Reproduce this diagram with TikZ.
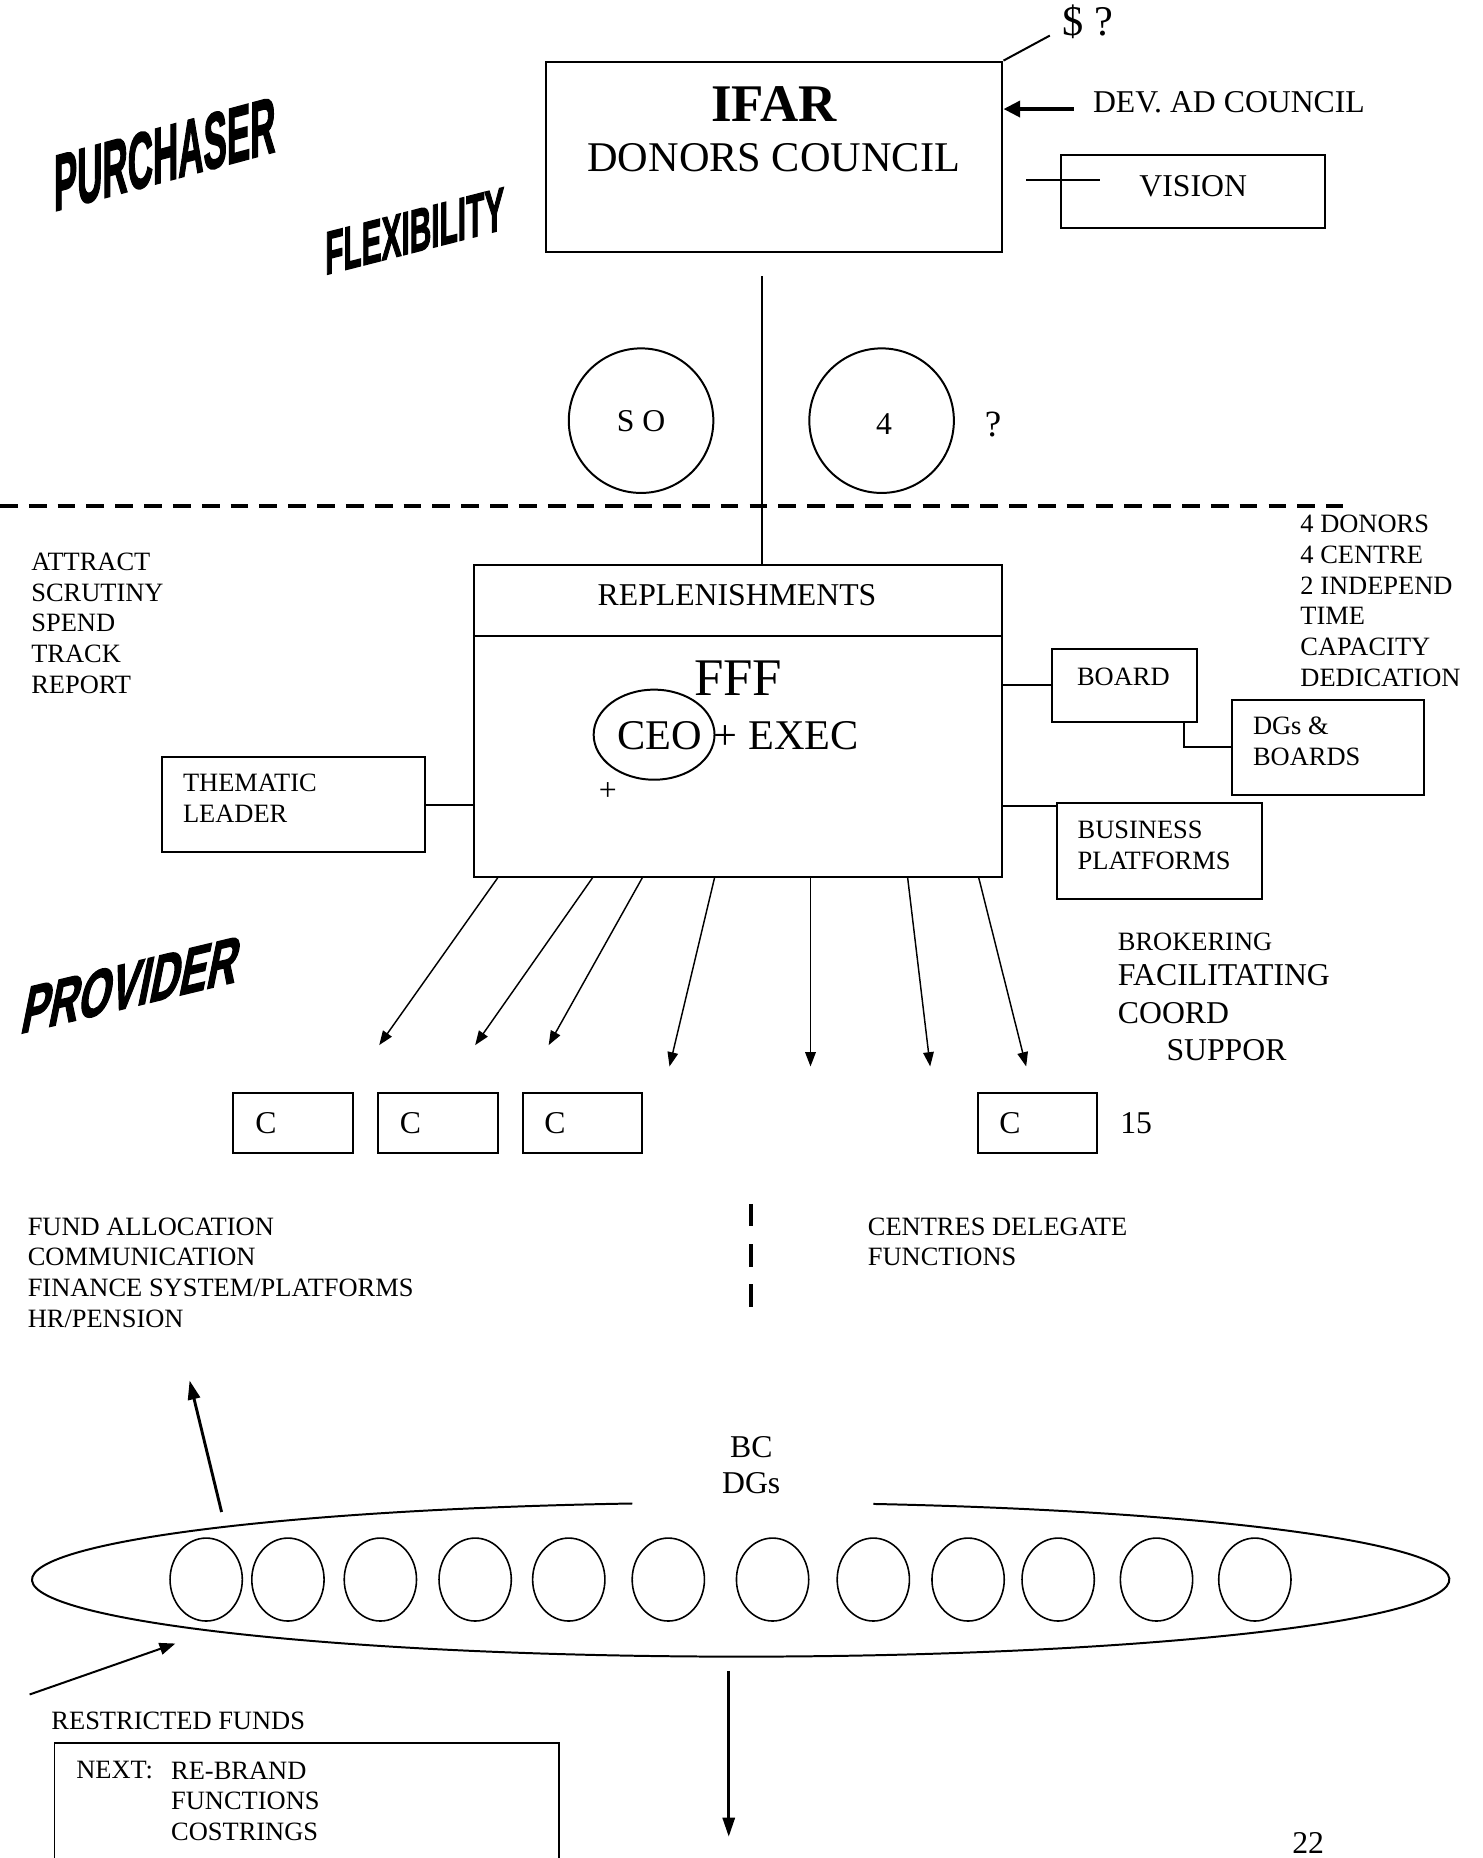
\documentclass[tikz,border=0pt]{standalone}
\usepackage{fontspec}
\setmainfont{Liberation Serif}
\newfontfamily\wafont[BoldFeatures={FakeBold=2.5}]{Liberation Sans}
\usetikzlibrary{arrows.meta,shapes.geometric,fit,calc}
\newcommand\myu{0.448pt}
\begin{document}
\begin{tikzpicture}[x=0.448pt,y=-0.448pt,
  box/.style={draw, line width=0.75pt, inner sep=0pt},
  conn/.style={line width=0.75pt},
  arr/.style={line width=0.55pt, -{Triangle[length=5.4pt,width=4pt]}},
  t/.style={inner sep=0pt},
  t10/.style={inner sep=0pt, font=\fontsize{10}{11.65}\selectfont, align=left},
  t12/.style={inner sep=0pt, font=\fontsize{12}{12.1}\selectfont},
  t16/.style={inner sep=0pt, font=\fontsize{16}{19}\selectfont},
  t20/.style={inner sep=0pt, font=\fontsize{20}{24}\selectfont},
  wa/.style={inner sep=0pt},
  circ/.style={draw, circle, line width=0.75pt, inner sep=0pt, font=\fontsize{12}{12.1}\selectfont},
  oval/.style={draw, ellipse, line width=0.6pt, inner sep=0pt}
]
\useasboundingbox (0,0) rectangle (1251,1568);

% ---------- top: IFAR ----------
\node[box, fit={(461,52) (846,213)}] (ifar) {};
\node[t20, font=\fontsize{20}{24}\selectfont\bfseries] (ifart) at (653,88) {IFAR};
\node[t16] (dc) at (653,133) {DONORS COUNCIL};
\node[t16] (dq) at (918,18) {\$ ?};
\coordinate (dqend) at (886,30);
\draw[conn] (ifar.north east) -- (dqend);
\node[t12, anchor=west] (dev) at (922,86) {DEV. AD COUNCIL};
\coordinate (devs) at (906,92);
\draw[line width=1.5pt, -{Triangle[length=6.3pt,width=6pt]}] (devs) -- (devs -| ifar.east);
\node[box, fit={(895,131) (1118,192)}] (vis) {};
\node[t12] (vist) at (1007,157) {VISION};
\coordinate (vl1) at (866,152);
\coordinate (vl2) at (928,152);
\draw[conn] (vl1) -- (vl2);

% ---------- word art ----------
\node[wa, font=\wafont\bfseries\fontsize{30}{30}\selectfont, cm={0.441,0.119,0,1,(0,0)}] (purch) at (139,130) {PURCHASER};
\node[wa, font=\wafont\bfseries\fontsize{23}{23}\selectfont, cm={0.49,0.125,0,1,(0,0)}] (flex) at (350,195) {FLEXIBILITY};
\node[wa, font=\wafont\bfseries\fontsize{25.5}{25.5}\selectfont, cm={0.611,0.147,0.2,1,(0,0)}] (prov) at (111,831) {PROVIDER};

% ---------- circles ----------
\node[circ, minimum size=122*\myu] (so) at (541,355) {S O};
\node[circ, minimum size=122*\myu] (four) at (744,355) {};
\node[t12] (fourt) at (746,358) {4};
\node[t, font=\fontsize{14}{14}\selectfont] (qm) at (838,358) {?};

% ---------- dashed divider ----------
\coordinate (dl1) at (0,427);
\coordinate (dl2) at (1133,427);
\draw[line width=1.3pt, dash pattern=on 6.7pt off 4.2pt] (dl1) -- (dl2);

\node[t10, anchor=west] (rlist) at (1097,507) {4 DONORS\\4 CENTRE\\2 INDEPEND\\TIME\\CAPACITY\\DEDICATION};
\node[t10, anchor=west] (llist) at (26,526) {ATTRACT\\SCRUTINY\\SPEND\\TRACK\\REPORT};

% ---------- FFF ----------
\node[box, fit={(400,477) (846,740)}] (fff) {};
\coordinate (vtop) at (643,233);
\draw[conn] (vtop) -- (vtop |- fff.north);
\coordinate (divy) at (0,537);
\draw[conn] (fff.west |- divy) -- (fff.east |- divy);
\node[t12] (repl) at (622,502) {REPLENISHMENTS};
\node[t20] (ffft) at (623,572) {FFF};
\node[draw, ellipse, line width=0.75pt, inner sep=0pt, minimum width=102*\myu, minimum height=76*\myu] (ceo) at (552,620) {};
\node[t16] (ceot) at (557,621) {CEO};
\node[t16, anchor=west] (exec) at (602,621) {+ EXEC};
\node[t12] (plus) at (513,668) {+};

\node[box, fit={(137,639) (359,719)}] (them) {};
\node[t10, anchor=west] (themt) at (154,674) {THEMATIC\\LEADER};
\coordinate (thy) at (0,679);
\draw[conn] (them.east |- thy) -- (fff.west |- thy);

\node[box, fit={(888,548) (1010,609)}] (board) {};
\node[t10] (boardt) at (948,571) {BOARD};
\coordinate (by) at (0,578);
\draw[conn] (fff.east |- by) -- (board.west |- by);

\node[box, fit={(1040,591) (1202,671)}] (dgs) {};
\node[t10, anchor=west] (dgst) at (1057,625.5) {DGs \&\\BOARDS};
\coordinate (bx) at (999,0);
\coordinate (dgy) at (0,630);
\draw[conn] (board.south -| bx) |- (dgs.west |- dgy);

\node[box, fit={(892,678) (1065,759)}] (bus) {};
\node[t10, anchor=west] (bust) at (909,713.5) {BUSINESS\\PLATFORMS};
\coordinate (buy) at (0,680);
\draw[conn] (fff.east |- buy) -- (bus.west |- buy);

% ---------- arrows to centres ----------
\foreach \sx/\ex/\ey [count=\i] in {420/320/882, 500/401/882, 542/463/882, 603/565/900, 684/684/900, 766/785/900, 826/866/900}{
  \coordinate (a\i) at (\ex,\ey);
  \coordinate (s\i) at (\sx,0);
  \draw[arr] (s\i |- fff.south) -- (a\i);
}

% ---------- C boxes ----------
\foreach \l [count=\i] in {197,319,441,825}{
  \node[box, fit={(\l,922) (\l+101,973)}] (c\i) {};
  \node[t12, anchor=west] (ct\i) at (\l+18,948) {C};
}
\node[t12, anchor=west] (fifteen) at (945,948) {15};

\node[t10, anchor=west] (brok) at (943,795) {BROKERING};
\node[t12, anchor=west] (facil) at (943,823) {FACILITATING};
\node[t12, anchor=west] (coord) at (943,855) {COORD};
\node[t12, anchor=west] (suppor) at (984,886) {SUPPOR};

% ---------- middle ----------
\coordinate (vd1) at (634,1016);
\coordinate (vd2) at (634,1104);
\draw[line width=1.6pt, dash pattern=on 8.5pt off 6.7pt] (vd1) -- (vd2);
\node[t10, anchor=west] (fund) at (23,1074) {FUND ALLOCATION\\COMMUNICATION\\FINANCE SYSTEM/PLATFORMS\\HR/PENSION};
\node[t10, anchor=west] (cdel) at (732,1048) {CENTRES DELEGATE\\FUNCTIONS};

% ---------- bottom ellipse ----------
\coordinate (ua1) at (187,1276);
\coordinate (ua2) at (160,1165);
\draw[line width=1.1pt, -{Triangle[length=7.2pt,width=4.6pt]}] (ua1) -- (ua2);
\node[t12] (bc) at (634,1221) {BC};
\node[t12] (dgsb) at (634,1252) {DGs};
\draw[line width=0.75pt] (737.1,1269.2) arc[start angle=280.8, end angle=621.2, x radius=598, y radius=65];
\foreach \cx [count=\i] in {174,243,321,401,480,564,652,737,817,893,976,1059}{
  \node[oval, minimum width=61*\myu, minimum height=70*\myu] (e\i) at (\cx,1333) {};
}
\coordinate (rf1) at (25,1430);
\coordinate (rf2) at (148,1387);
\draw[line width=0.75pt, -{Triangle[length=6pt,width=4.5pt]}] (rf1) -- (rf2);
\node[t10, anchor=west] (restr) at (43,1452) {RESTRICTED FUNDS};
\node[box, fit={(46,1471) (472,1640)}] (next) {};
\node[t10, anchor=west] (nextt) at (64,1494) {NEXT:};
\node[t10, anchor=west] (rebr) at (144,1494) {RE-BRAND};
\node[t10, anchor=west] (func) at (144,1520) {FUNCTIONS};
\node[t10, anchor=west] (cost) at (144,1546) {COSTRINGS};
\coordinate (da1) at (615,1410);
\coordinate (da2) at (615,1550);
\draw[line width=1pt, -{Triangle[length=7.2pt,width=4.6pt]}] (da1) -- (da2);
\node[t12] (pg) at (1104,1555) {22};
\end{tikzpicture}
\end{document}
